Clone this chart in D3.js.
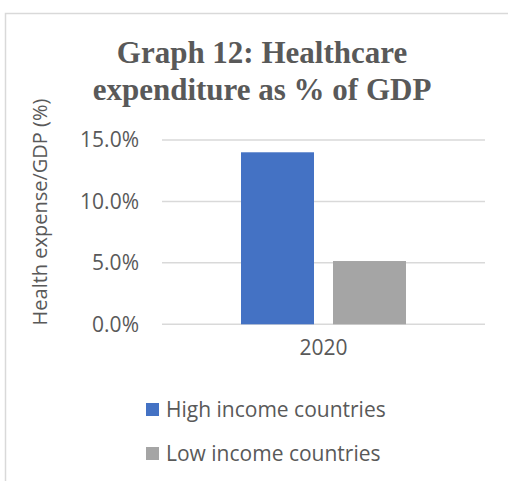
<!DOCTYPE html>
<html><head><meta charset="utf-8">
<script src="https://cdn.jsdelivr.net/npm/d3@7"></script>
<style>html,body{margin:0;padding:0;background:#fff;}svg{display:block;}</style>
</head><body>
<svg id="c" width="508" height="481"></svg>
<script>
const categories = ["2020"];
const seriesNames = ["High income countries", "Low income countries"];
const seriesValues = [14.0, 5.15];
const seriesColors = ["#4472C4", "#A5A5A5"];
const yTicks = [0, 5, 10, 15];
const titleLines = ["Graph 12: Healthcare", "expenditure as % of GDP"];
const yLabel = "Health expense/GDP (%)";

const svg = d3.select("#c");
const textColor = "#595959";
const sans = "'Open Sans', 'Segoe UI', sans-serif";

// chart border
svg.append("rect").attr("x", 5.5).attr("y", 13.5).attr("width", 540).attr("height", 500)
  .attr("fill", "#fff").attr("stroke", "#d9d9d9").attr("stroke-width", 1.5);

// title
const title = svg.append("text").attr("text-anchor", "middle")
  .attr("font-family", "'Liberation Serif', 'Times New Roman', serif")
  .attr("font-weight", "bold").attr("font-size", 31).attr("fill", textColor);
titleLines.forEach((t, i) => title.append("tspan").attr("x", 262).attr("y", 63 + i * 37).text(t));

const plot = {left: 162, right: 485, top: 140, bottom: 324.3};
const y = d3.scaleLinear().domain([0, 15]).range([plot.bottom, plot.top]);
const x0 = d3.scaleBand().domain(categories).range([plot.left, plot.right]).paddingInner(0).paddingOuter(0.4788);
const x1 = d3.scaleBand().domain(seriesNames).range([0, x0.bandwidth()]).paddingInner(0.2065).paddingOuter(0);

// gridlines
svg.append("g").selectAll("line").data(yTicks).join("line")
  .attr("x1", plot.left).attr("x2", plot.right)
  .attr("y1", d => y(d)).attr("y2", d => y(d))
  .attr("stroke", "#d9d9d9").attr("stroke-width", 1.5);

// y axis
const yAxis = d3.axisLeft(y).tickValues(yTicks).tickFormat(d => d.toFixed(1) + "%").tickSize(0).tickPadding(0);
const gy = svg.append("g").attr("transform", `translate(139,0)`).call(yAxis);
gy.select(".domain").remove();
gy.selectAll("text").attr("font-family", sans).attr("font-size", 21).attr("fill", textColor);

// bars
const groups = svg.append("g").selectAll("g").data(categories).join("g")
  .attr("transform", d => `translate(${x0(d)},0)`);
groups.selectAll("rect").data(() => seriesNames.map((s, i) => ({s, v: seriesValues[i], c: seriesColors[i]})))
  .join("rect")
  .attr("x", d => x1(d.s)).attr("width", x1.bandwidth())
  .attr("y", d => y(d.v)).attr("height", d => y(0) - y(d.v))
  .attr("fill", d => d.c);

// x axis
const xAxis = d3.axisBottom(x0).tickSize(0).tickPadding(0);
const gx = svg.append("g").attr("transform", `translate(0,${plot.bottom + 23})`).call(xAxis);
gx.selectAll("text").attr("dy", null);
gx.select(".domain").remove();
gx.selectAll("text").attr("font-family", sans).attr("font-size", 21).attr("fill", textColor).attr("dy", "0.35em");

// y label
svg.append("text").attr("transform", "translate(47,212) rotate(-90)").attr("text-anchor", "middle")
  .attr("font-family", sans).attr("font-size", 20).attr("fill", textColor).text(yLabel);

// legend
const leg = svg.append("g").selectAll("g").data(seriesNames).join("g")
  .attr("transform", (d, i) => `translate(146,${403 + i * 44})`);
leg.append("rect").attr("width", 13).attr("height", 13).attr("fill", (d, i) => seriesColors[i]);
leg.append("text").attr("x", 20).attr("y", 7).attr("dy", "0.35em")
  .attr("font-family", sans).attr("font-size", 21).attr("fill", textColor).text(d => d);
</script>
</body></html>
